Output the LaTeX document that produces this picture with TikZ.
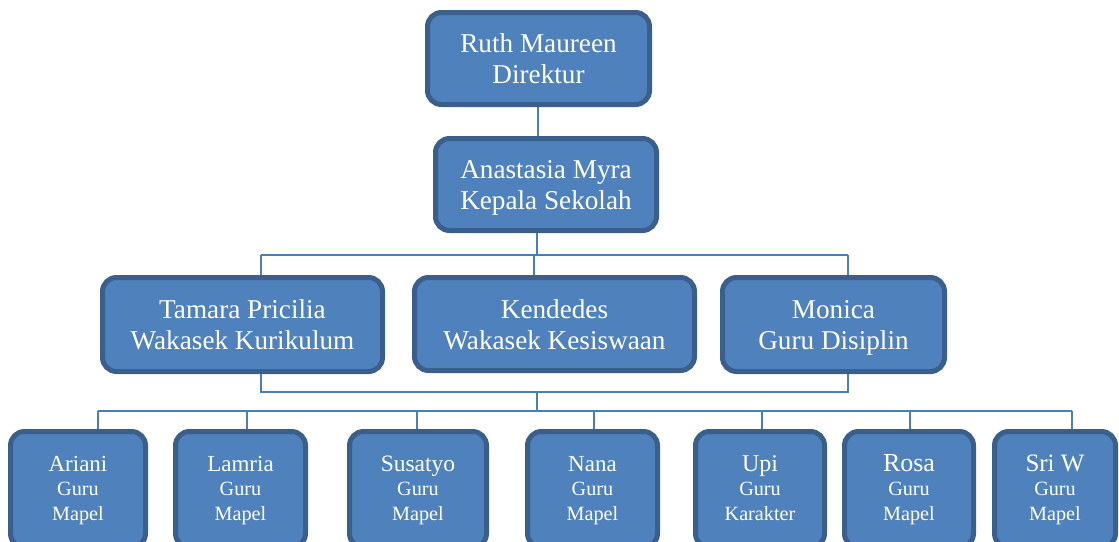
\documentclass[tikz,border=0pt]{standalone}
\usepackage{fontspec}
\setmainfont{Liberation Serif}
\definecolor{boxfill}{HTML}{4F81BD}
\definecolor{boxline}{HTML}{3A5F8B}
\definecolor{conn}{HTML}{4A7EBB}
\newcommand{\topstrut}{\rule{0pt}{25.25pt}}
\newcommand{\botstrut}{\rule[-6pt]{0pt}{0pt}}
\newcommand{\stopstrut}{\rule{0pt}{17pt}}
\newcommand{\sbotstrut}{\rule[-5pt]{0pt}{0pt}}
\begin{document}
\begin{tikzpicture}[x=1pt,y=-1pt,
  orgbox/.style={draw=boxline, fill=boxfill, line width=5pt, rounded corners=14pt,
    text=white, align=center, inner sep=0pt, font=\fontsize{27.2}{30.75}\selectfont},
  smallbox/.style={orgbox, minimum height=116pt, font=\fontsize{20.2}{24.5}\selectfont},
  link/.style={draw=conn, line width=1.8pt}]
\useasboundingbox (0,0) rectangle (1119,541);
\clip (0,0) rectangle (1119,541);
% top levels
\node[orgbox, minimum width=222pt, minimum height=92pt] (ruth) at (538.5,58.5) {\topstrut Ruth Maureen\\Direktur\botstrut};
\node[orgbox, minimum width=221pt, minimum height=92pt] (ana) at (546,184.5) {\topstrut Anastasia Myra\\Kepala Sekolah\botstrut};
\node[orgbox, minimum width=280pt, minimum height=94pt] (tam) at (242.5,324.5) {\topstrut Tamara Pricilia\\Wakasek Kurikulum\botstrut};
\node[orgbox, minimum width=280pt, minimum height=93pt] (ken) at (554.5,324) {\topstrut Kendedes\\Wakasek Kesiswaan\botstrut};
\node[orgbox, minimum width=222pt, minimum height=94pt] (mon) at (833.5,324.5) {\topstrut Monica\\Guru Disiplin\botstrut};
% bottom row
\node[smallbox, minimum width=135pt] (ari) at (78,489.5) {\stopstrut{\fontsize{23}{24.5}\selectfont Ariani}\\Guru\\Mapel\sbotstrut};
\node[smallbox, minimum width=130pt] (lam) at (240.5,489.5) {\stopstrut{\fontsize{23}{24.5}\selectfont Lamria}\\Guru\\Mapel\sbotstrut};
\node[smallbox, minimum width=137pt] (sus) at (418,489.5) {\stopstrut{\fontsize{23.5}{24.5}\selectfont Susatyo}\\Guru\\Mapel\sbotstrut};
\node[smallbox, minimum width=130pt] (nan) at (592.5,489.5) {\stopstrut{\fontsize{23}{24.5}\selectfont Nana}\\Guru\\Mapel\sbotstrut};
\node[smallbox, minimum width=129pt] (upi) at (760,489.5) {\stopstrut{\fontsize{24}{24.5}\selectfont Upi}\\Guru\\Karakter\sbotstrut};
\node[smallbox, minimum width=129pt] (ros) at (909,489.5) {\stopstrut{\fontsize{26}{24.5}\selectfont Rosa}\\Guru\\Mapel\sbotstrut};
\node[smallbox, minimum width=121pt] (sri) at (1055,489.5) {\stopstrut{\fontsize{25}{24.5}\selectfont Sri W}\\Guru\\Mapel\sbotstrut};
% junction coordinates
\coordinate (j1) at (537,255);
\coordinate (j1l) at (261,255);
\coordinate (j1r) at (848,255);
\coordinate (j2l) at (261,392);
\coordinate (j2r) at (848,392);
\coordinate (j2) at (537,392);
\coordinate (j3) at (537,411);
\coordinate (j3l) at (98,411);
\coordinate (j3r) at (1072,411);
% connectors
\draw[link] (ruth.south -| 538,0) -- (ana.north -| 538,0);
\draw[link] (ana.south -| j1) -- (j1);
\draw[link] (j1l) -- (j1r);
\draw[link] (j1l) -- (tam.north -| j1l);
\draw[link] (534,255) -- (ken.north -| 534,0);
\draw[link] (j1r) -- (mon.north -| j1r);
\draw[link] (tam.south -| j2l) -- (j2l) -- (j2r) -- (mon.south -| j2r);
\draw[link] (j2) -- (j3);
\draw[link] (j3l) -- (j3r);
\draw[link] (j3l) -- (ari.north -| j3l);
\draw[link] (247,411) -- (lam.north -| 247,0);
\draw[link] (417,411) -- (sus.north -| 417,0);
\draw[link] (594,411) -- (nan.north -| 594,0);
\draw[link] (762,411) -- (upi.north -| 762,0);
\draw[link] (910,411) -- (ros.north -| 910,0);
\draw[link] (j3r) -- (sri.north -| j3r);
\end{tikzpicture}
\end{document}
